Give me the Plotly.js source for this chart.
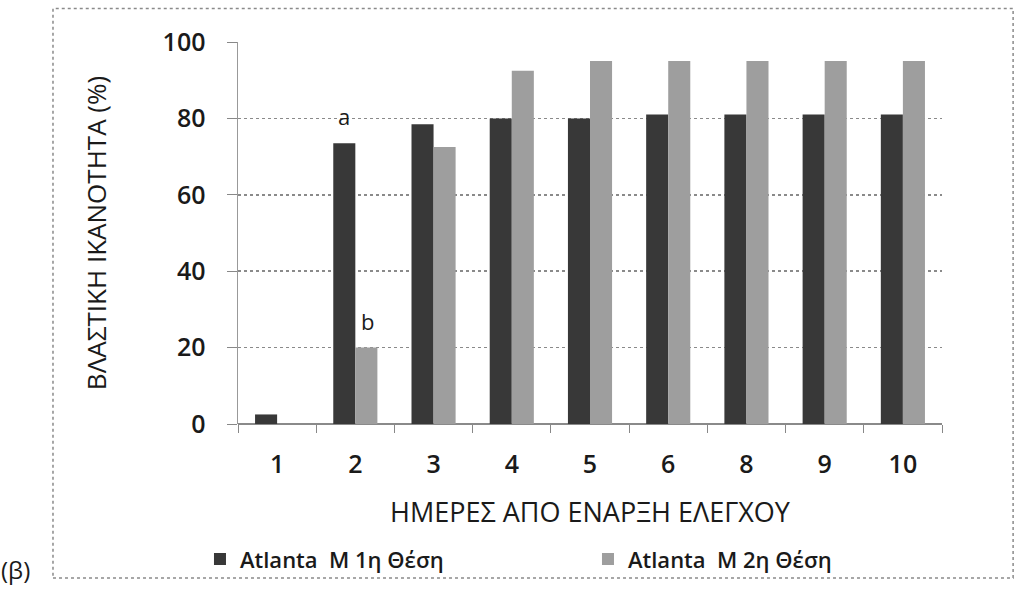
<!DOCTYPE html>
<html>
<head>
<meta charset="utf-8">
<script src="https://cdn.plot.ly/plotly-3.0.1.min.js"></script>
<style>html,body{margin:0;padding:0;background:#fff;}#chart{width:1015px;height:592px;}</style>
</head>
<body>
<div id="chart"></div>
<script>
var categories = ['1','2','3','4','5','6','8','9','10'];
var series1Name = 'Atlanta  M 1η Θέση';
var series2Name = 'Atlanta  M 2η Θέση';
var series1 = [2.5, 73.5, 78.5, 80, 80, 81, 81, 81, 81];
var series2 = [0, 20, 72.5, 92.5, 95, 95, 95, 95, 95];
var yTicks = [0, 20, 40, 60, 80, 100];
var xTitle = 'ΗΜΕΡΕΣ ΑΠΟ ΕΝΑΡΞΗ ΕΛΕΓΧΟΥ';
var yTitle = 'ΒΛΑΣΤΙΚΗ ΙΚΑΝΟΤΗΤΑ (%)';

var F = '"Open Sans", "Noto Sans", sans-serif';

var traces = [
  {type:'bar', x:categories, y:series1, name:series1Name,
   marker:{color:'#383838', line:{width:0}}},
  {type:'bar', x:categories, y:series2, name:series2Name,
   marker:{color:'#9e9e9e', line:{width:0}}}
];

var layout = {
  width:1015, height:592,
  margin:{l:238, r:73, t:42, b:163},
  paper_bgcolor:'#fff', plot_bgcolor:'#fff',
  barmode:'group', bargap:0.436, bargroupgap:0,
  showlegend:true,
  font:{family:F, color:'#1a1a1a'},
  xaxis:{
    type:'category', tickson:'boundaries', ticks:'outside', ticklen:8, tickcolor:'#888',
    showline:false, showgrid:false, zeroline:false, automargin:false,
    tickfont:{size:25, weight:600}, ticklabelstandoff:23,
    title:{text:xTitle, font:{size:27, weight:500}, standoff:24}
  },
  yaxis:{
    range:[0,100], tickvals:yTicks, ticks:'outside', ticklen:10, tickcolor:'#888',
    showline:true, linecolor:'#999', linewidth:1.5, automargin:false,
    showgrid:true, gridcolor:'#8a8a8a', griddash:'dot', gridwidth:1.5,
    zeroline:true, zerolinecolor:'#8a8a8a', zerolinewidth:1.5,
    tickfont:{size:25, weight:600}, ticklabelstandoff:16,
    title:{text:yTitle, font:{size:26, weight:500}, standoff:48}
  },
  legend:{orientation:'h', x:-0.054, xanchor:'left', y:-0.354, yanchor:'middle',
    bgcolor:'rgba(0,0,0,0)',
    entrywidth:343, entrywidthmode:'pixels', font:{size:22, weight:600}, itemwidth:30},
  shapes:[
    {type:'rect', xref:'paper', yref:'paper', x0:-0.2628, x1:1.101, y0:-0.403, y1:1.0879,
     line:{color:'#8a8a8a', width:1.5, dash:'dot'}, layer:'below'}
  ],
  annotations:[
    {xref:'x', yref:'y', x:0.86, y:80.6, text:'a', showarrow:false, font:{size:22, weight:500}},
    {xref:'x', yref:'y', x:1.15, y:26.9, text:'b', showarrow:false, font:{size:22, weight:500}},
    {xref:'paper', yref:'paper', x:(-222/704), y:(429-576)/387, xanchor:'center', yanchor:'middle',
     text:'(β)', showarrow:false, font:{size:24, weight:400}}
  ]
};

Plotly.newPlot('chart', traces, layout, {displayModeBar:false, staticPlot:true});
</script>
</body>
</html>
